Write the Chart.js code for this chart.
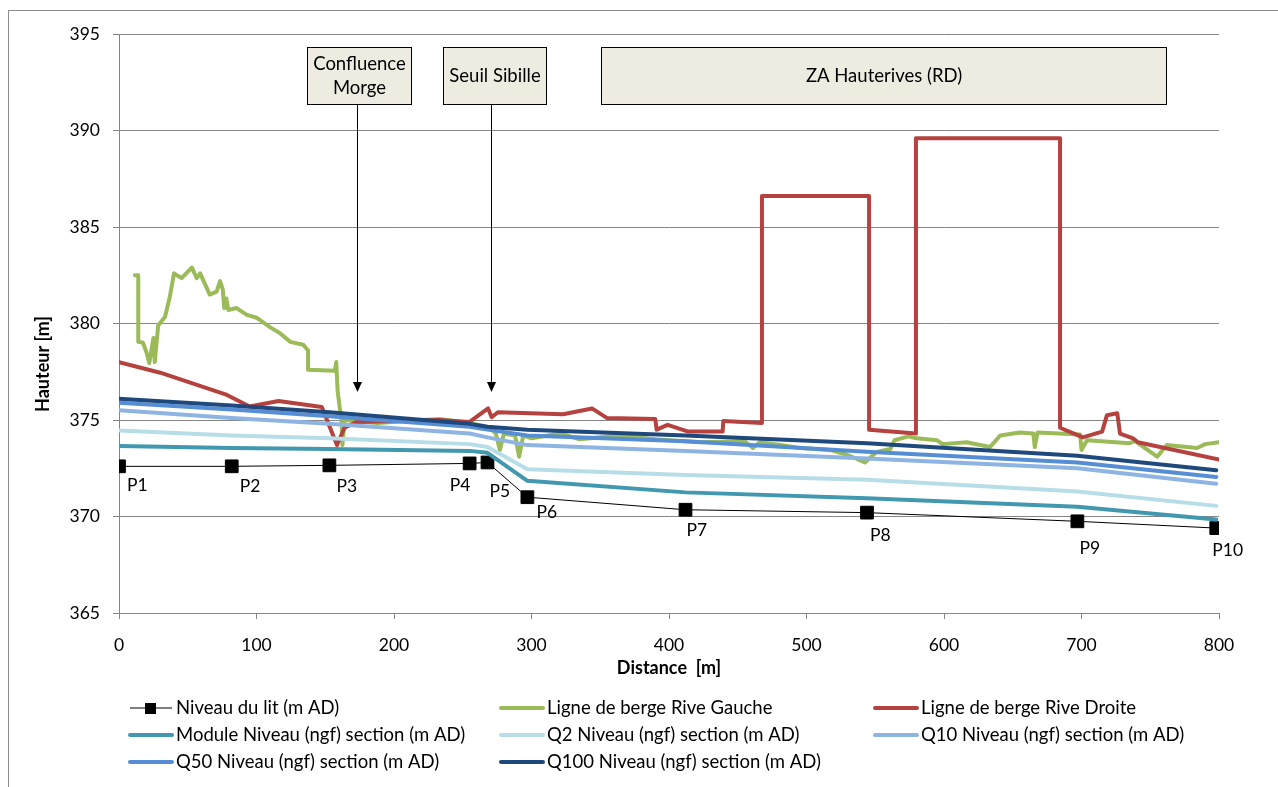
<!DOCTYPE html>
<html lang="fr">
<head>
<meta charset="utf-8">
<title>Profil en long</title>
<script src="https://cdn.jsdelivr.net/npm/chart.js@4.4.1/dist/chart.umd.min.js"></script>
<style>
    html, body { margin: 0; padding: 0; background: #fff; }
</style>
</head>
<body>
<canvas id="profilChart" width="1278" height="787"></canvas>
<script>
// Sections (P1..P10) : abscisses et niveaux
const sectionX = [0, 82, 153, 255, 268, 297, 412, 544, 697, 798];
const sectionLabels = ['P1', 'P2', 'P3', 'P4', 'P5', 'P6', 'P7', 'P8', 'P9', 'P10'];
const niveauLit = [372.6, 372.6, 372.65, 372.75, 372.8, 371.0, 370.35, 370.2, 369.75, 369.4];
const moduleNiv = [373.65, 373.55, 373.5, 373.4, 373.3, 371.85, 371.25, 370.95, 370.5, 369.85];
const q2Niv = [374.45, 374.2, 374.05, 373.75, 373.6, 372.45, 372.15, 371.9, 371.3, 370.55];
const q10Niv = [375.5, 375.1, 374.8, 374.3, 374.1, 373.7, 373.4, 373.0, 372.5, 371.7];
const q50Niv = [375.9, 375.55, 375.2, 374.65, 374.5, 374.2, 373.9, 373.35, 372.8, 372.05];
const q100Niv = [376.1, 375.75, 375.4, 374.8, 374.65, 374.5, 374.2, 373.8, 373.15, 372.4];

// Ligne de berge rive gauche
const gaucheX = [11.6, 14, 14, 17.5, 20, 22, 25, 26, 28.5, 33.5, 37, 40, 45.5, 53, 56.5, 59, 66, 71, 73.5, 75.5,
    76.5, 78, 79.5, 85.5, 93, 100, 110, 117, 124.5, 134, 137.5, 137.5, 157, 158, 159, 162, 162.5, 164, 188,
    233, 255, 270, 274, 277, 280, 288, 291, 294, 300, 321, 335, 364, 390, 422, 455, 461, 466, 481, 495,
    517, 529.5, 542.5, 551, 561, 564, 574, 580, 595, 599, 616.5, 633.5, 641, 655, 665, 666, 668, 699,
    700, 704, 735, 739, 755, 762, 784, 790, 800];
const gaucheY = [382.5, 382.5, 379.05, 379.0, 378.5, 377.95, 379.25, 378.0, 379.9, 380.35, 381.4, 382.6, 382.35, 382.9, 382.35, 382.6, 381.5, 381.65, 382.2, 381.75,
    380.8, 381.3, 380.7, 380.8, 380.45, 380.3, 379.8, 379.5, 379.05, 378.9, 378.6, 377.6, 377.55, 378.0, 376.5, 374.8, 373.7, 375.0, 374.85,
    375.05, 374.85, 374.6, 374.3, 373.45, 374.3, 374.2, 373.1, 374.2, 374.05, 374.3, 374.0, 374.2, 374.0, 373.85, 373.9, 373.55, 373.85, 373.7, 373.55,
    373.45, 373.2, 372.8, 373.35, 373.5, 373.95, 374.15, 374.05, 373.95, 373.75, 373.85, 373.6, 374.2, 374.35, 374.3, 373.6, 374.35, 374.25,
    373.45, 373.95, 373.8, 373.9, 373.1, 373.7, 373.55, 373.75, 373.85];

// Ligne de berge rive droite
const droiteX = [0, 30, 78.5, 95, 116, 147.5, 158.5, 164, 173, 233, 255, 268.4, 271, 275.6, 323, 344, 355, 390, 391, 399,
    414, 439, 439.5, 467.6, 467.6, 545.5, 545.5, 579.6, 579.6, 684.4, 684.4, 701, 715, 718.5, 726, 728, 737.5, 741, 800];
const droiteY = [378.0, 377.45, 376.3, 375.7, 375.98, 375.67, 373.7, 374.6, 374.9, 375.0, 374.9, 375.6, 375.15, 375.4, 375.3, 375.6, 375.1, 375.05, 374.5, 374.75,
    374.4, 374.4, 374.95, 374.85, 386.6, 386.6, 374.5, 374.3, 389.6, 389.6, 374.6, 374.1, 374.4, 375.25, 375.35, 374.3, 374.05, 373.85, 372.95];

// Repères en haut du graphique
const calloutText = [['Confluence', 'Morge'], ['Seuil Sibille'], ['ZA Hauterives (RD)']];
const calloutFrom = [136.7, 235.6, 350.5];
const calloutTo = [212.4, 310.5, 761.5];
const calloutArrow = [173, 270.5, null];

const FONT = 'Lato, "Open Sans", sans-serif';
Chart.defaults.font.family = FONT;
Chart.defaults.color = '#000';

function pts(xs, ys) {
    return xs.map((x, i) => ({ x: x, y: ys[i] }));
}

function serie(label, xs, ys, color, order) {
    return {
        label: label,
        data: pts(xs, ys),
        borderColor: color,
        backgroundColor: color,
        borderWidth: 4,
        borderJoinStyle: 'round',
        borderCapStyle: 'round',
        pointRadius: 0,
        showLine: true,
        order: order
    };
}

// décalage des étiquettes P1..P10 par rapport au point (px)
const labelShift = [[8, 19], [8, 20], [7, 21], [-20, 22], [2, 29], [9, 15], [1, 21], [3, 23], [2, 27], [-4, 22]];

const decor = {
    id: 'decor',
    afterDraw(chart) {
        const c = chart.ctx;
        const xs = chart.scales.x, ys = chart.scales.y;
        c.save();

        // cadre extérieur
        c.strokeStyle = '#8c8c8c';
        c.lineWidth = 1;
        c.strokeRect(8.5, 10.5, 1400, 900);

        // titre de l'axe vertical
        c.save();
        c.translate(43, 364);
        c.rotate(-Math.PI / 2);
        c.font = 'bold 18px ' + FONT;
        c.fillStyle = '#000';
        c.textAlign = 'center';
        c.textBaseline = 'middle';
        c.fillText('Hauteur [m]', 0, 0);
        c.restore();

        // étiquettes des profils
        c.font = '17.5px ' + FONT;
        c.fillStyle = '#000';
        c.textAlign = 'left';
        c.textBaseline = 'middle';
        const bed = chart.getDatasetMeta(0).data;
        sectionLabels.forEach((t, i) => {
            c.fillText(t, bed[i].x + labelShift[i][0], bed[i].y + labelShift[i][1]);
        });

        // encadrés + flèches
        c.font = '18.5px ' + FONT;
        const top = Math.round(ys.getPixelForValue(394.33)) + 0.5;
        const bottom = Math.round(ys.getPixelForValue(391.37)) + 0.5;
        const tip = ys.getPixelForValue(376.45);
        calloutText.forEach((lines, i) => {
            const x0 = Math.round(xs.getPixelForValue(calloutFrom[i])) + 0.5;
            const x1 = Math.round(xs.getPixelForValue(calloutTo[i])) + 0.5;
            c.fillStyle = '#EEECE1';
            c.fillRect(x0, top, x1 - x0, bottom - top);
            c.strokeStyle = '#000';
            c.lineWidth = 1;
            c.strokeRect(x0, top, x1 - x0, bottom - top);
            c.fillStyle = '#000';
            c.textAlign = 'center';
            const cx = (x0 + x1) / 2, cy = (top + bottom) / 2;
            lines.forEach((l, k) => {
                c.fillText(l, cx, cy + (k - (lines.length - 1) / 2) * 24);
            });
            if (calloutArrow[i] !== null) {
                const ax = Math.round(xs.getPixelForValue(calloutArrow[i])) + 0.5;
                c.beginPath();
                c.moveTo(ax, bottom);
                c.lineTo(ax, tip - 8);
                c.stroke();
                c.beginPath();
                c.moveTo(ax - 4.5, tip - 10);
                c.lineTo(ax + 4.5, tip - 10);
                c.lineTo(ax, tip);
                c.closePath();
                c.fill();
            }
        });

        // légende sur 3 colonnes
        c.font = '18.5px ' + FONT;
        const colX = [130, 501, 875];
        const rowY = [708, 735, 762];
        c.textAlign = 'left';
        chart.data.datasets.forEach((ds, i) => {
            const lx = colX[i % 3], ly = rowY[Math.floor(i / 3)];
            c.strokeStyle = ds.borderColor;
            c.lineWidth = ds.borderWidth;
            c.lineCap = i === 0 ? 'butt' : 'round';
            c.beginPath();
            c.moveTo(lx, ly);
            c.lineTo(lx + 42, ly);
            c.stroke();
            if (i === 0) {
                c.fillStyle = '#000';
                c.fillRect(lx + 15, ly - 5, 11, 11);
            }
            c.fillStyle = '#000';
            c.fillText(ds.label, lx + 46, ly);
        });
        c.restore();
    }
};

const ctx = document.getElementById('profilChart').getContext('2d');
const profilChart = new Chart(ctx, {
    type: 'scatter',
    data: {
        datasets: [
            {
                label: 'Niveau du lit (m AD)',
                data: pts(sectionX, niveauLit),
                borderColor: '#000',
                backgroundColor: '#000',
                borderWidth: 1,
                showLine: true,
                pointStyle: 'rect',
                pointRadius: 9,
                order: 7
            },
            serie('Ligne de berge Rive Gauche', gaucheX, gaucheY, '#9BBB59', 6),
            serie('Ligne de berge Rive Droite', droiteX, droiteY, '#B6423F', 5),
            serie('Module Niveau (ngf) section (m AD)', sectionX, moduleNiv, '#4198AF', 4),
            serie('Q2 Niveau (ngf) section (m AD)', sectionX, q2Niv, '#B7DEE8', 3),
            serie('Q10 Niveau (ngf) section (m AD)', sectionX, q10Niv, '#8DB4E2', 2),
            serie('Q50 Niveau (ngf) section (m AD)', sectionX, q50Niv, '#558ED5', 1),
            serie('Q100 Niveau (ngf) section (m AD)', sectionX, q100Niv, '#1F497D', 0)
        ]
    },
    options: {
        responsive: false,
        animation: false,
        layout: { padding: { left: 32, top: 34, right: 59, bottom: 108 } },
        plugins: {
            legend: { display: false },
            tooltip: { enabled: false }
        },
        scales: {
            x: {
                type: 'linear',
                min: 0,
                max: 800,
                ticks: { stepSize: 100, padding: 16, font: { size: 17.5 }, color: '#000' },
                grid: { drawOnChartArea: false, tickLength: 6, color: '#868686' },
                border: { color: '#868686' },
                title: { display: true, text: 'Distance  [m]', font: { size: 18, weight: 'bold' }, padding: 0, color: '#000' },
                afterFit: (s) => { s.height = 66; }
            },
            y: {
                min: 365,
                max: 395,
                ticks: { stepSize: 5, padding: 13, font: { size: 17.5 }, color: '#000' },
                grid: { tickLength: 6, color: '#868686' },
                border: { color: '#868686' },
                afterFit: (s) => { s.width = 87; }
            }
        }
    },
    plugins: [decor]
});
</script>
</body>
</html>
